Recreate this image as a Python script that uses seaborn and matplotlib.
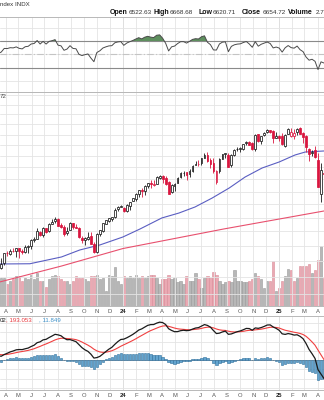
import numpy as np
import pandas as pd
import matplotlib
matplotlib.use("Agg")
import matplotlib.pyplot as plt
import matplotlib.dates as mdates
import seaborn as sns

# ------------------------------------------------------------------ data
first_week_end = "2023-03-10"          # weekly bars, week ending Friday
opens = [3998, 3860, 3917, 3975, 4102, 4098, 4138, 4134, 4167, 4136, 4126, 4190,
         4201, 4286, 4300, 4396, 4344, 4450, 4404, 4505, 4548, 4584, 4492, 4458,
         4381, 4416, 4520, 4464, 4454, 4313, 4284, 4289, 4343, 4225, 4117, 4364,
         4407, 4511, 4555, 4586, 4610, 4725, 4759,
         4745, 4703, 4772, 4849, 4888, 4957, 5026, 5003, 5093, 5131, 5111, 5123,
         5219, 5258, 5217, 5149, 4988, 5085, 5142, 5233, 5311, 5316, 5297, 5341,
         5440, 5459, 5472, 5572, 5615, 5531, 5476, 5152, 5345, 5557, 5630, 5624,
         5442, 5615, 5725, 5726, 5737, 5833, 5857, 5833, 5725, 6008, 5874, 5993,
         6040, 6083, 6063, 5942,
         5979, 5982, 5785, 6014, 5969, 5970, 6046, 6121, 6026, 5969, 5726, 5653,
         5718, 5527, 4954, 5311]
highs = [4078, 3964, 4040, 4110, 4133, 4163, 4170, 4170, 4168, 4155, 4213, 4212,
         4290, 4322, 4448, 4400, 4458, 4456, 4527, 4578, 4607, 4594, 4527, 4490,
         4458, 4541, 4520, 4511, 4466, 4339, 4318, 4386, 4394, 4255, 4373, 4415,
         4521, 4569, 4598, 4609, 4739, 4778, 4793,
         4755, 4802, 4842, 4903, 4975, 5030, 5049, 5111, 5140, 5190, 5180, 5262,
         5265, 5264, 5263, 5168, 5114, 5140, 5239, 5325, 5342, 5316, 5375, 5447,
         5506, 5524, 5570, 5656, 5670, 5566, 5566, 5360, 5564, 5643, 5651, 5651,
         5636, 5734, 5767, 5765, 5822, 5879, 5878, 5862, 6012, 6018, 5972, 6044,
         6100, 6085, 6090, 6050,
         5985, 6021, 6007, 6128, 6120, 6101, 6128, 6147, 6044, 5986, 5746, 5715,
         5787, 5656, 5482, 5459]
lows = [3847, 3809, 3899, 3951, 4069, 4086, 4114, 4049, 4048, 4098, 4109, 4103,
        4166, 4260, 4299, 4341, 4328, 4385, 4389, 4503, 4528, 4474, 4448, 4335,
        4356, 4414, 4430, 4442, 4315, 4238, 4216, 4283, 4223, 4104, 4113, 4342,
        4394, 4511, 4537, 4546, 4594, 4699, 4751,
        4682, 4682, 4714, 4845, 4845, 4918, 4920, 4946, 5057, 5057, 5092, 5118,
        5203, 5146, 5107, 4954, 4983, 5012, 5142, 5218, 5257, 5192, 5235, 5321,
        5447, 5432, 5448, 5561, 5497, 5391, 5302, 5119, 5306, 5540, 5560, 5402,
        5403, 5604, 5697, 5674, 5705, 5809, 5796, 5703, 5696, 5853, 5830, 5973,
        6023, 6024, 5833, 5929,
        5869, 5809, 5773, 6012, 5962, 5923, 5992, 6009, 5837, 5667, 5505, 5597,
        5572, 5069, 4835, 5220]
closes = [3862, 3917, 3971, 4109, 4105, 4138, 4133, 4169, 4136, 4124, 4192, 4205,
          4282, 4299, 4410, 4348, 4450, 4399, 4505, 4536, 4582, 4478, 4464, 4370,
          4406, 4516, 4457, 4450, 4320, 4288, 4309, 4327, 4224, 4117, 4358, 4415,
          4514, 4559, 4595, 4604, 4719, 4755, 4770,
          4697, 4784, 4840, 4891, 4959, 5027, 5006, 5089, 5137, 5124, 5117, 5234,
          5254, 5204, 5123, 4967, 5100, 5128, 5223, 5303, 5305, 5278, 5347, 5432,
          5465, 5460, 5567, 5615, 5505, 5459, 5347, 5344, 5554, 5634, 5648, 5408,
          5626, 5703, 5738, 5751, 5815, 5864, 5808, 5729, 5996, 5870, 5969, 6032,
          6090, 6051, 5931, 5970,
          5942, 5827, 5997, 6101, 6041, 6026, 6115, 6013, 5955, 5770, 5639, 5668,
          5581, 5074, 5363, 5283]
volumes_bn = [18, 17, 19, 19, 15, 17, 18, 20, 20, 17, 19, 18,
              21, 18, 22, 17, 17, 13, 18, 20, 21, 20, 18, 17,
              17, 15, 17, 20, 19, 19, 18, 17, 20, 20, 21, 18,
              19, 10, 21, 20, 26, 17, 15,
              20, 19, 20, 19, 21, 19, 20, 19, 20, 21, 21, 19,
              15, 18, 18, 21, 18, 19, 16, 17, 15, 20, 17, 17,
              22, 18, 12, 19, 20, 19, 23, 21, 17, 15, 16, 17,
              16, 24, 17, 17, 16, 16, 17, 18, 22, 20, 18, 12,
              17, 17, 30, 10,
              12, 17, 20, 25, 24, 17, 19, 27, 27, 27, 28, 22,
              24, 31, 40, 19]
# weekly closes Jul 2022 - Mar 2023, only used to seed RSI / MACD
seed_closes = [3825, 3899, 3863, 3962, 4130, 4145, 4280, 4228, 4058, 3924, 4067, 3873,
               3693, 3586, 3640, 3583, 3752, 3901, 3771, 3993, 3965, 4026, 4072, 3934,
               3852, 3845, 3840, 3895, 3999, 3973, 4071, 4136, 4090, 4079, 3970, 4046]

ma50_dates = ["2023-03-19", "2023-05-28", "2023-08-10", "2023-09-22", "2023-11-08",
              "2024-01-01", "2024-02-10", "2024-04-01", "2024-05-11", "2024-06-18",
              "2024-07-28", "2024-09-06", "2024-10-13", "2024-11-22", "2025-01-01",
              "2025-02-07", "2025-03-03", "2025-04-16"]
ma50_vals = [3965, 3968, 4055, 4147, 4214, 4323, 4435, 4594, 4667, 4759,
             4897, 5057, 5237, 5391, 5496, 5620, 5674, 5693]
ma200_dates = ["2023-03-19", "2023-08-10", "2024-01-01", "2024-08-24", "2025-04-16"]
ma200_vals = [3744, 3939, 4166, 4435, 4698]

month_labels = ["A", "M", "J", "J", "A", "S", "O", "N", "D", "24", "F", "M",
                "A", "M", "J", "J", "A", "S", "O", "N", "D", "25", "F", "M", "A"]
header_items = [("Open", "6522.63"), ("High", "6668.68"), ("Low", "6620.71"),
                ("Close", "6654.72"), ("Volume", "2.7")]
macd_label_parts = [("02", "#222222"), (", 193.053", "#e8383d"), (", 11.849", "#3d91c9")]

# ------------------------------------------------------------ indicators
allc = pd.Series(seed_closes + closes, dtype=float)
d = allc.diff()
gain = d.clip(lower=0).ewm(alpha=1 / 14, adjust=False).mean()
loss = (-d.clip(upper=0)).ewm(alpha=1 / 14, adjust=False).mean()
rsi_all = 100 - 100 / (1 + gain / loss)
ema12 = allc.ewm(span=12, adjust=False).mean()
ema26 = allc.ewm(span=26, adjust=False).mean()
macd_all = ema12 - ema26
sig_all = macd_all.ewm(span=9, adjust=False).mean()
ns = len(seed_closes)
rsi = rsi_all.values[ns:]
macd = macd_all.values[ns:]
sig = sig_all.values[ns:]
hist = macd - sig

n = len(closes)
week_end = pd.date_range(first_week_end, periods=n, freq="W-FRI")
xd = mdates.date2num(week_end - pd.Timedelta(days=2))
o = np.array(opens, float); h = np.array(highs, float)
l = np.array(lows, float); c = np.array(closes, float)
prev = np.concatenate([[seed_closes[-1]], c[:-1]])
down = c < prev

# ---------------------------------------------------------------- figure
sns.set_theme(style="white")
plt.rcParams['font.family'] = ['Liberation Sans', 'DejaVu Sans']

W, H = 324, 400
fig = plt.figure(figsize=(W / 100, H / 100), dpi=100)

def add_ax(top, bottom):
    return fig.add_axes([0, 1 - bottom / H, 1, (bottom - top) / H])

ax_r = add_ax(17, 92)
ax_p = add_ax(92, 306)
ax_m = add_ax(316, 390)

x0 = mdates.date2num(pd.Timestamp("2023-03-19"))
x1 = mdates.date2num(pd.Timestamp("2025-04-16"))
mt = mdates.date2num(pd.date_range("2023-04-01", "2025-04-01", freq="MS"))
years = mdates.date2num(pd.to_datetime(["2024-01-01", "2025-01-01"]))

GRID = "#e4e4e4"
for ax in (ax_r, ax_p, ax_m):
    ax.set_xlim(x0, x1)
    for s in ("left", "right"):
        ax.spines[s].set_visible(False)
    for s in ("top", "bottom"):
        ax.spines[s].set_color("#b8b8b8")
        ax.spines[s].set_linewidth(0.7)
    ax.set_xticks(mt)
    ax.grid(True, axis="both", color=GRID, lw=0.6)
    for yv in years:
        ax.axvline(yv, color="#c9c9c9", lw=0.7, zorder=0.5)
    ax.tick_params(axis="both", length=0, labelsize=4.2, colors="#555555", pad=2)
    ax.set_axisbelow(True)

# ---------------- RSI
ax_r.set_ylim(-5.6, 105.6)
ax_r.set_yticks([10, 30, 50, 70, 90])
ax_r.set_yticklabels([])
ax_r.set_xticklabels([])
ax_r.axhline(70, color="#8a8a8a", lw=0.8)
ax_r.axhline(30, color="#8a8a8a", lw=0.8)
ax_r.axhline(50, color="#c4c4c4", lw=0.8, ls=(0, (6, 2, 1, 2)))
ax_r.fill_between(xd, 70, rsi, where=rsi > 70, interpolate=True, color="#5e8f5e", lw=0, zorder=2)
sns.lineplot(x=xd, y=rsi, ax=ax_r, color="#4a4a4a", lw=0.7, zorder=3)

# ---------------- price
ax_p.set_yscale("log")
ax_p.set_ylim(3466, 6876)
ax_p.yaxis.set_major_locator(matplotlib.ticker.FixedLocator(np.arange(3600, 6900, 200)))
ax_p.yaxis.set_minor_locator(matplotlib.ticker.NullLocator())
ax_p.set_yticklabels([])

ax_v = ax_p.twinx()
ax_v.set_ylim(0, 143)
ax_v.set_yticks([])
for s in ax_v.spines.values():
    s.set_visible(False)
vol_fc = np.where(down, "#eaa9b3", "#b7b7b7")
vol_ec = np.where(down, "#d98c98", "#9a9a9a")
ax_v.bar(xd, volumes_bn, width=5.6, color=vol_fc, edgecolor=vol_ec, lw=0.4)
ax_p.set_zorder(ax_v.get_zorder() + 1)
ax_p.patch.set_visible(False)

sns.lineplot(x=mdates.date2num(pd.to_datetime(ma200_dates)), y=ma200_vals, ax=ax_p,
             color="#e8506e", lw=0.8, zorder=3)
sns.lineplot(x=mdates.date2num(pd.to_datetime(ma50_dates)), y=ma50_vals, ax=ax_p,
             color="#5a5ec2", lw=0.8, zorder=3)

col = np.where(down, "#d9163f", "#1a1a1a")
ax_p.vlines(xd, l, h, colors=col, lw=0.6, zorder=4)
body_lo = np.minimum(o, c); body_hi = np.maximum(o, c)
filled = c < o
fc = np.where(filled, col, "white")
ax_p.bar(xd, body_hi - body_lo, bottom=body_lo, width=4.2, color=fc,
         edgecolor=col, lw=0.55, zorder=5)

ax_p.set_xticklabels(month_labels)
for t, lab in zip(ax_p.get_xticklabels(), month_labels):
    if lab.isdigit():
        t.set_fontweight("bold"); t.set_color("#222222")

# ---------------- MACD
ax_m.set_ylim(-162, 238)
ax_m.set_yticks(np.arange(-150, 250, 50))
ax_m.set_yticklabels([])
ax_m.bar(xd, hist, width=5.6, color="#62a4cf", edgecolor="#2f6f9c", lw=0.4, zorder=2)
ax_m.axhline(0, color="#9a9a9a", lw=0.6, zorder=1.5)
sns.lineplot(x=xd, y=sig, ax=ax_m, color="#f04040", lw=0.8, zorder=3)
sns.lineplot(x=xd, y=macd, ax=ax_m, color="#1a1a1a", lw=0.9, zorder=4)
ax_m.set_xticklabels(month_labels)
for t, lab in zip(ax_m.get_xticklabels(), month_labels):
    if lab.isdigit():
        t.set_fontweight("bold"); t.set_color("#222222")

# ---------------- texts
def ftext(xp, yp, s, **kw):
    fig.text(xp / W, 1 - yp / H, s, va="center", ha="left", **kw)

ftext(0, 5, "ndex INDX", fontsize=4.4, color="#333333")
hx = [(110, 129), (154, 170), (198, 213), (242, 263), (288, 316)]
for (lab, val), (xl, xv) in zip(header_items, hx):
    ftext(xl, 13, lab, fontsize=5.0, fontweight="bold", color="#111111")
    ftext(xv, 13, val, fontsize=4.6, color="#333333")
ftext(0, 97, "72", fontsize=4.4, color="#444444")
mx = 0
for s, cc in macd_label_parts:
    fig.text(mx / W, 1 - 320 / H, s, fontsize=4.4, color=cc, va="center", ha="left")
    mx += {"02": 5.5, ", 193.053": 33.5}.get(s, 0)

fig.savefig("out.png", dpi=100)
